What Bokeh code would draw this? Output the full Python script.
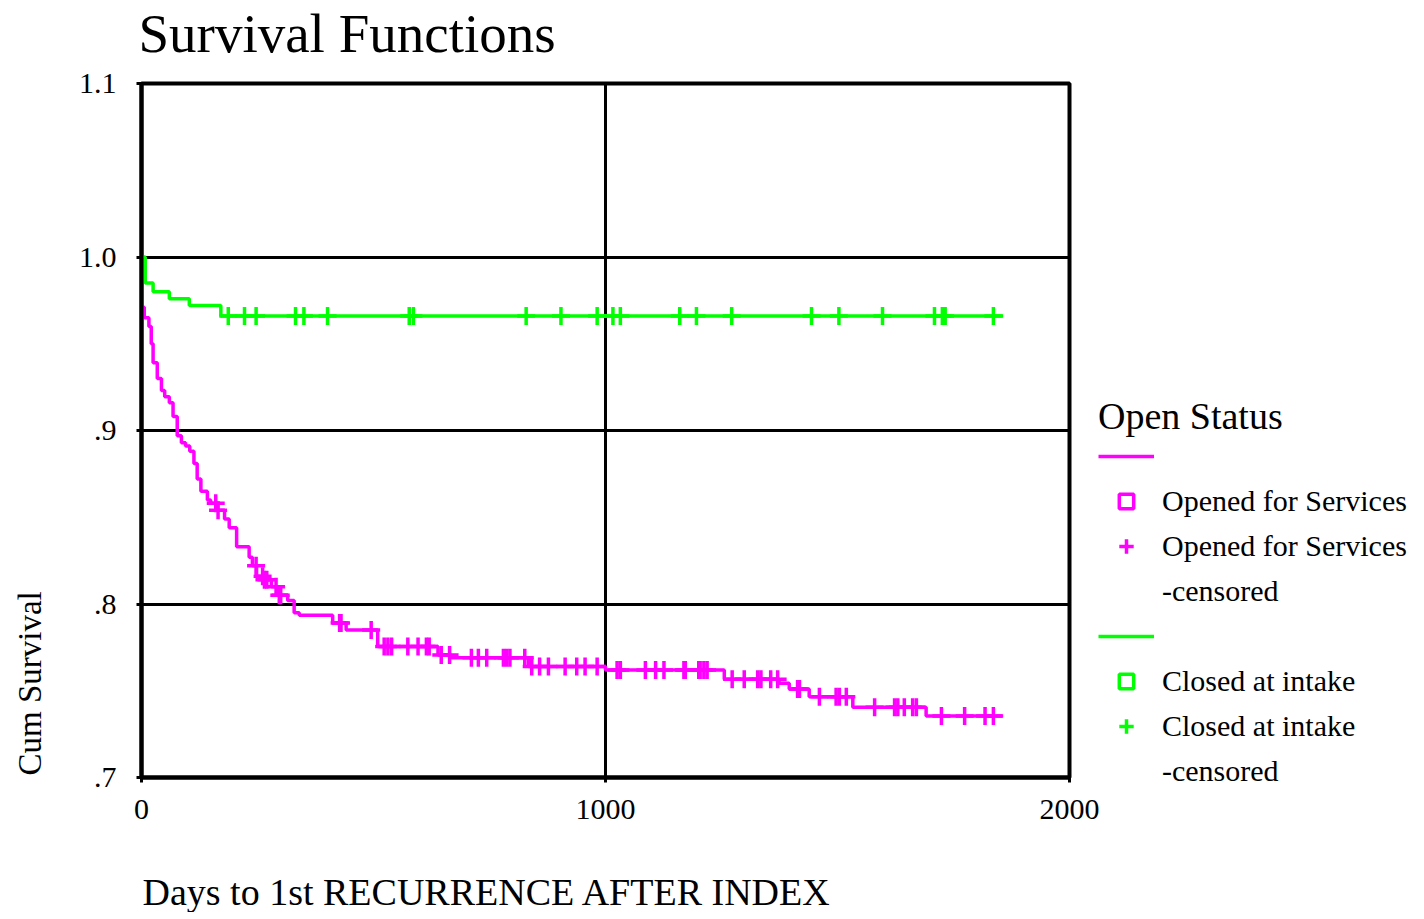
import numpy as np
from bokeh.plotting import figure
from bokeh.models import ColumnDataSource, FixedTicker, Legend, LegendItem, Title
from bokeh.embed import file_html
from bokeh.resources import INLINE

# ---------------- data ----------------
open_days = [0, 6, 16, 21, 25, 34, 43, 50, 60, 68, 77, 86, 95, 104, 113, 120, 128, 142,
             149, 164, 179, 189, 205, 232, 239, 248, 265, 280, 293, 315, 329, 340, 412,
             441, 509, 639, 668, 834, 1000, 1256, 1374, 1396, 1439, 1533, 1691, 1857]
open_surv = [0.971, 0.965, 0.960, 0.950, 0.939, 0.930, 0.923, 0.9195, 0.916, 0.908,
             0.897, 0.893, 0.891, 0.888, 0.881, 0.872, 0.865, 0.860, 0.858, 0.854,
             0.849, 0.844, 0.833, 0.827, 0.822, 0.816, 0.814, 0.810, 0.805, 0.802,
             0.795, 0.7935, 0.789, 0.785, 0.7755, 0.7706, 0.769, 0.764, 0.762, 0.7566,
             0.7543, 0.751, 0.7466, 0.7405, 0.7355, 0.7355]
open_censored_days = [160, 165, 247, 261, 265, 270, 290, 297, 300, 427, 430, 495, 523,
                      531, 539, 574, 596, 614, 620, 646, 664, 711, 726, 744, 780, 787,
                      794, 826, 841, 858, 877, 913, 938, 956, 982, 1025, 1032, 1086,
                      1108, 1126, 1169, 1172, 1201, 1204, 1212, 1219, 1273, 1299, 1328,
                      1335, 1356, 1371, 1414, 1418, 1461, 1497, 1504, 1519, 1580, 1623,
                      1630, 1644, 1662, 1670, 1724, 1774, 1818, 1836]

closed_days = [0, 8, 25, 60, 103, 171, 1857]
closed_surv = [1.0, 0.985, 0.980, 0.976, 0.972, 0.966, 0.966]
closed_censored_days = [187, 222, 247, 332, 350, 401, 577, 586, 829, 904, 982, 1016,
                        1032, 1160, 1196, 1272, 1444, 1503, 1597, 1709, 1726, 1732, 1836]

x_ticks = [0, 1000, 2000]
x_tick_labels = ["0", "1000", "2000"]
y_ticks = [0.7, 0.8, 0.9, 1.0, 1.1]
y_tick_labels = [".7", ".8", ".9", "1.0", "1.1"]
x_grid = [1000]
y_grid = [0.8, 0.9, 1.0]

title_text = "Survival Functions"
x_label = "Days to 1st RECURRENCE AFTER INDEX"
y_label = "Cum Survival"
legend_title = "Open Status"
open_name = "Opened for Services"
closed_name = "Closed at intake"
censored_suffix = "-censored"

MAGENTA = "#ff00ff"
GREEN = "#00ff00"
FONT = "Liberation Serif"


def surv_at(days, surv, t):
    d = np.asarray(days, dtype=float)
    s = np.asarray(surv, dtype=float)
    idx = np.searchsorted(d, np.asarray(t, dtype=float), side="right") - 1
    return s[idx]


p = figure(frame_width=928, frame_height=694, x_range=(0, 2000), y_range=(0.7, 1.1),
           output_backend="svg", toolbar_location=None,
           min_border_left=141, min_border_right=355, min_border_top=83,
           min_border_bottom=134)
p.background_fill_color = "white"
p.border_fill_color = "white"
p.outline_line_color = "black"
p.outline_line_width = 4

# spacer between the frame and the title (keeps the title high above the frame)
p.add_layout(Title(text=" ", text_font_size="1px", standoff=17), "above")
p.title.text = title_text
p.title.align = "left"
p.title.offset = -3
p.title.text_font = FONT
p.title.text_font_size = "55px"
p.title.text_font_style = "normal"
p.title.text_color = "black"
p.title.standoff = 0

# axes
p.xaxis.ticker = FixedTicker(ticks=x_ticks)
p.xaxis.major_label_overrides = dict(zip(x_ticks, x_tick_labels))
p.yaxis.ticker = FixedTicker(ticks=y_ticks)
p.yaxis.major_label_overrides = dict(zip(y_ticks, y_tick_labels))
for ax in (p.xaxis[0], p.yaxis[0]):
    ax.axis_line_width = 4
    ax.axis_line_color = "black"
    ax.major_tick_in = 0
    ax.major_tick_out = 5
    ax.major_tick_line_width = 3
    ax.major_tick_line_color = "black"
    ax.minor_tick_line_color = None
    ax.major_label_text_font = FONT
    ax.major_label_text_font_size = "30px"
    ax.major_label_text_color = "black"
    ax.axis_label = " "
    ax.axis_label_text_font_size = "1px"
p.yaxis.major_label_standoff = 20
p.xaxis.major_label_standoff = 17
p.yaxis.axis_label_standoff = 24
p.xaxis.axis_label_standoff = 43

# axis titles placed as side titles (start-aligned like the reference)
p.add_layout(Title(text=y_label, align="left", offset=2, text_font=FONT,
                   text_font_size="33px", text_font_style="normal",
                   text_color="black", standoff=0), "left")
p.add_layout(Title(text=x_label, align="left", offset=1, text_font=FONT,
                   text_font_size="38px", text_font_style="normal",
                   text_color="black", standoff=0), "below")

# grid
p.xgrid.ticker = FixedTicker(ticks=x_grid)
p.ygrid.ticker = FixedTicker(ticks=y_grid)
for g in (p.xgrid[0], p.ygrid[0]):
    g.grid_line_color = "black"
    g.grid_line_width = 3
    g.grid_line_alpha = 1.0

# curves
open_src = ColumnDataSource(dict(x=open_days, y=open_surv))
closed_src = ColumnDataSource(dict(x=closed_days, y=closed_surv))
open_c_src = ColumnDataSource(dict(x=open_censored_days,
                                   y=surv_at(open_days, open_surv, open_censored_days)))
closed_c_src = ColumnDataSource(dict(x=closed_censored_days,
                                     y=surv_at(closed_days, closed_surv, closed_censored_days)))

r_open_line = p.step("x", "y", source=open_src, mode="after", line_color=MAGENTA, line_width=3.5)
r_open_cens = p.scatter("x", "y", source=open_c_src, marker="cross", size=18,
                        line_color=MAGENTA, line_width=3.5)
r_closed_line = p.step("x", "y", source=closed_src, mode="after", line_color=GREEN, line_width=3.5)
r_closed_cens = p.scatter("x", "y", source=closed_c_src, marker="cross", size=18,
                          line_color=GREEN, line_width=3.5)
# event markers: SPSS hides them in the plot, they only appear in the legend
r_open_evt = p.scatter(x=[np.nan], y=[np.nan], marker="square", size=10, fill_color="white",
                       line_color=MAGENTA, line_width=3.5)
r_closed_evt = p.scatter(x=[np.nan], y=[np.nan], marker="square", size=10, fill_color="white",
                         line_color=GREEN, line_width=3.5)

legend = Legend(items=[
    LegendItem(label=" ", renderers=[r_open_line]),
    LegendItem(label=open_name, renderers=[r_open_evt]),
    LegendItem(label=open_name, renderers=[r_open_cens]),
    LegendItem(label=censored_suffix, renderers=[]),
    LegendItem(label="  ", renderers=[r_closed_line]),
    LegendItem(label=closed_name, renderers=[r_closed_evt]),
    LegendItem(label=closed_name, renderers=[r_closed_cens]),
    LegendItem(label=censored_suffix, renderers=[]),
], location=(29, -12), orientation="vertical")
legend.title = legend_title
legend.title_text_font = FONT
legend.title_text_font_size = "38px"
legend.title_text_font_style = "normal"
legend.title_text_color = "black"
legend.title_standoff = 0
legend.label_text_font = FONT
legend.label_text_font_size = "30px"
legend.label_text_color = "black"
legend.label_standoff = 8
legend.label_height = 36
legend.glyph_width = 56
legend.glyph_height = 36
legend.spacing = 9
legend.padding = 0
legend.margin = 0
legend.border_line_alpha = 0
legend.background_fill_alpha = 0
p.add_layout(legend, "right")

open("out.html", "w").write(file_html(p, INLINE))
